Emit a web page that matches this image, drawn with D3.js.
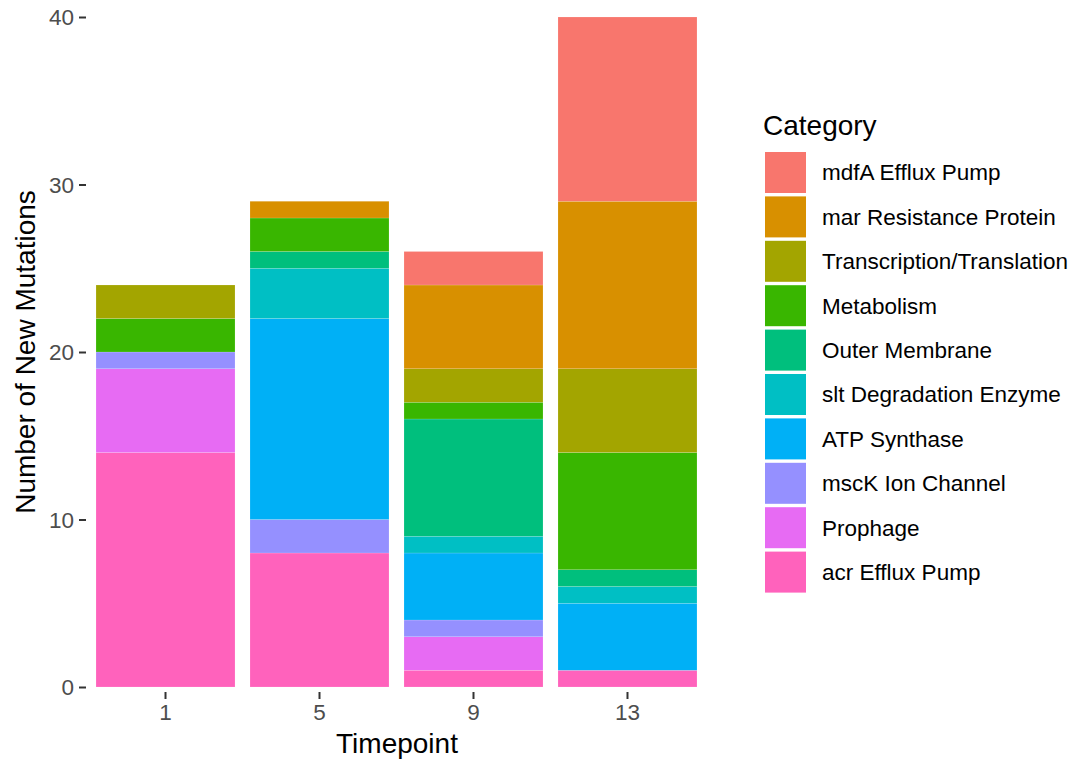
<!DOCTYPE html>
<html><head><meta charset="utf-8">
<script src="https://cdn.jsdelivr.net/npm/d3@7"></script>
<style>body{margin:0;background:#fff;} svg{display:block;font-family:"Liberation Sans",Arial,sans-serif;}</style>
</head><body>
<svg id="chart" width="1074" height="759"></svg>
<script>
const timepoints = ["1","5","9","13"];
const categories = ["mdfA Efflux Pump","mar Resistance Protein","Transcription/Translation","Metabolism","Outer Membrane","slt Degradation Enzyme","ATP Synthase","mscK Ion Channel","Prophage","acr Efflux Pump"];
const colors = ["#F8766D","#D89000","#A3A500","#39B600","#00BF7D","#00BFC4","#00B0F6","#9590FF","#E76BF3","#FF62BC"];
const mdfA = [0,0,2,11];
const mar = [0,1,5,10];
const transcription = [2,0,2,5];
const metabolism = [2,2,1,7];
const outerMembrane = [0,1,7,1];
const slt = [0,3,1,1];
const atp = [0,12,4,4];
const mscK = [1,2,1,0];
const prophage = [5,0,2,0];
const acr = [14,8,1,1];
const yTicks = [0,10,20,30,40];

const seriesValues = [mdfA,mar,transcription,metabolism,outerMembrane,slt,atp,mscK,prophage,acr];
const rows = timepoints.map((t,i)=>{const r={tp:t}; categories.forEach((c,j)=>r[c]=seriesValues[j][i]); return r;});

const svg = d3.select("#chart");
const x = d3.scaleBand().domain(timepoints).range([86,707]).paddingInner(0.0974).paddingOuter(0.065);
const y = d3.scaleLinear().domain([0,40]).range([687,17]);
const color = d3.scaleOrdinal().domain(categories).range(colors);

const stack = d3.stack().keys(categories.slice().reverse());
const stacked = stack(rows);

svg.append("g").selectAll("g").data(stacked).join("g")
  .attr("fill", d=>color(d.key))
  .selectAll("rect").data(d=>d.filter(s=>s[1]-s[0]>0)).join("rect")
  .attr("x", d=>x(d.data.tp))
  .attr("width", x.bandwidth())
  .attr("y", d=>y(d[1]))
  .attr("height", d=>y(d[0])-y(d[1]))
  .attr("stroke","white").attr("stroke-opacity",0.3).attr("stroke-width",0.5);

// y axis
const yAxis = svg.append("g").attr("transform","translate(86,0)")
  .call(d3.axisLeft(y).tickValues(yTicks).tickSize(7).tickPadding(5));
yAxis.select(".domain").remove();
yAxis.selectAll(".tick line").attr("stroke","#333").attr("stroke-width",2);
yAxis.selectAll(".tick text").attr("fill","#4D4D4D").attr("font-size",22.5).attr("font-family","Liberation Sans, Arial, sans-serif").attr("dy","0.35em");

// x axis
const xAxis = svg.append("g").attr("transform","translate(0,692)")
  .call(d3.axisBottom(x).tickSize(7).tickPadding(5));
xAxis.select(".domain").remove();
xAxis.selectAll(".tick line").attr("stroke","#333").attr("stroke-width",2);
xAxis.selectAll(".tick text").attr("fill","#4D4D4D").attr("font-size",22.5).attr("font-family","Liberation Sans, Arial, sans-serif").attr("dy","0.71em");

svg.append("text").attr("x",397).attr("y",753).attr("text-anchor","middle")
  .attr("font-size",28).attr("fill","#000").text("Timepoint");
svg.append("text").attr("transform","translate(35,352) rotate(-90)").attr("text-anchor","middle")
  .attr("font-size",28).attr("fill","#000").text("Number of New Mutations");

// legend
const lg = svg.append("g");
lg.append("text").attr("x",763).attr("y",135).attr("font-size",28).attr("fill","#000").text("Category");
const items = lg.selectAll("g.item").data(categories).join("g").attr("class","item")
  .attr("transform",(d,i)=>`translate(765,${152+i*44.4})`);
items.append("rect").attr("width",41).attr("height",41).attr("fill",d=>color(d));
items.append("text").attr("x",57).attr("y",20.5).attr("dy","0.35em").attr("font-size",22.5).attr("fill","#000").text(d=>d);
</script>
</body></html>
